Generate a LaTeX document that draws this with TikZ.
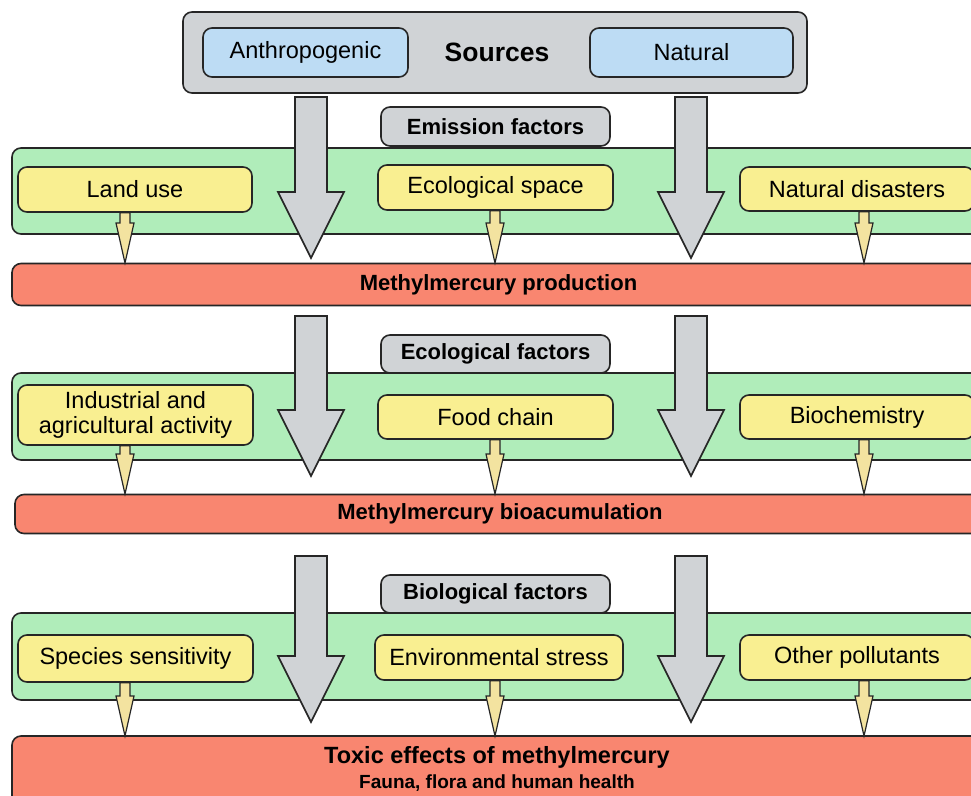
\documentclass[tikz,border=0pt]{standalone}
\usepackage{fontspec}
\setmainfont{Liberation Sans}
\usetikzlibrary{calc}

\tikzset{
    panel/.style={draw=lineColour, line width=1.6pt, rounded corners=9pt, inner sep=0pt},
    srcbox/.style={panel, fill=greyFill},
    origin/.style={panel, fill=blueFill, font=\fontsize{23.5}{27}\selectfont},
    tagbox/.style={panel, fill=greyFill, font=\fontsize{22}{26}\selectfont\bfseries},
    band/.style={panel, fill=greenFill},
    factor/.style={panel, fill=yellowFill, align=center, font=\fontsize{23.5}{25}\selectfont},
    stage/.style={panel, fill=redFill, align=center, font=\fontsize{22}{26}\selectfont\bfseries},
    bigarrow/.style={draw=lineColour, line width=1.6pt, fill=greyFill, line join=miter},
    thinarrow/.style={draw=lineColour, line width=1.2pt, fill=tanFill, line join=miter}
}

% Fat grey arrow: start point, tip
\newcommand{\fatarrow}[2]{%
    \draw[bigarrow] let \p1=(#1), \p2=(#2) in
        (\x1-16pt,\y1) -- (\x1+16pt,\y1) -- (\x1+16pt,\y2+66pt) -- (\x1+33pt,\y2+66pt)
        -- (\x1,\y2) -- (\x1-33pt,\y2+66pt) -- (\x1-16pt,\y2+66pt) -- cycle;}

% Small yellow arrow: start point, tip
\newcommand{\slimarrow}[2]{%
    \draw[thinarrow] let \p1=(#1), \p2=(#2) in
        (\x1-5pt,\y1) -- (\x1+5pt,\y1) -- (\x1+5pt,\y2+40pt) -- (\x1+9pt,\y2+40pt)
        -- (\x1,\y2) -- (\x1-9pt,\y2+40pt) -- (\x1-5pt,\y2+40pt) -- cycle;}

\begin{document}
\begin{tikzpicture}[x=1pt, y=-1pt]
    % Define colours
    \definecolor{lineColour}{HTML}{262626}
    \definecolor{greyFill}{HTML}{D0D3D6}
    \definecolor{blueFill}{HTML}{BDDCF4}
    \definecolor{greenFill}{HTML}{B0EDBA}
    \definecolor{yellowFill}{HTML}{F9EF91}
    \definecolor{tanFill}{HTML}{F3E3A0}
    \definecolor{redFill}{HTML}{F98670}

    % Fix the page
    \useasboundingbox (0,0) rectangle (971,795);
    \clip (0,0) rectangle (971,795);

    % Sources
    \node[srcbox, minimum width=624, minimum height=81] (sources) at (495,52.5) {};
    \node[origin, minimum width=205, minimum height=49] (anthro) at (305.5,52.5) {Anthropogenic};
    \node[origin, minimum width=203, minimum height=49] (natural) at (691.5,52.5) {Natural};
    \node[font=\fontsize{26.5}{30}\selectfont\bfseries] (srclabel) at (497,52.5) {Sources};

    % Row 1: emission
    \node[band, minimum width=973, minimum height=86] (green1) at (498.5,191) {};
    \node[tagbox, minimum width=229, minimum height=39] (emission) at (495.5,126.5) {Emission factors};
    \node[factor, minimum width=234, minimum height=45] (landuse) at (135,189.5) {Land use};
    \node[factor, minimum width=235, minimum height=45] (ecospace) at (495.5,187.5) {Ecological space};
    \node[factor, minimum width=234, minimum height=44] (disasters) at (857,189) {Natural disasters};
    \node[stage, minimum width=973, minimum height=42] (production) at (498.5,284.5) {Methylmercury production};

    \fatarrow{311,97}{311,258}
    \fatarrow{691,97}{691,258}
    \coordinate (p1) at (125,263);
    \coordinate (p2) at (495,263);
    \coordinate (p3) at (864,263);
    \slimarrow{landuse.south -| p1}{p1}
    \slimarrow{ecospace.south -| p2}{p2}
    \slimarrow{disasters.south -| p3}{p3}

    % Row 2: ecological
    \node[band, minimum width=973, minimum height=87] (green2) at (498.5,416.5) {};
    \node[tagbox, minimum width=229, minimum height=38] (ecological) at (495.5,354) {Ecological factors};
    \node[factor, minimum width=235, minimum height=60] (industry) at (135.5,415) {Industrial and\\agricultural activity};
    \node[factor, minimum width=235, minimum height=44] (foodchain) at (495.5,417) {Food chain};
    \node[factor, minimum width=234, minimum height=44] (biochem) at (857,417) {Biochemistry};
    \node[stage, minimum width=970, minimum height=39] (bioaccum) at (500,514) {Methylmercury bioacumulation};

    \fatarrow{311,316}{311,476}
    \fatarrow{691,316}{691,476}
    \coordinate (q1) at (125,494);
    \coordinate (q2) at (495,494);
    \coordinate (q3) at (864,494);
    \slimarrow{industry.south -| q1}{q1}
    \slimarrow{foodchain.south -| q2}{q2}
    \slimarrow{biochem.south -| q3}{q3}

    % Row 3: biological
    \node[band, minimum width=973, minimum height=87] (green3) at (498.5,656.5) {};
    \node[tagbox, minimum width=229, minimum height=38] (biological) at (495.5,594) {Biological factors};
    \node[factor, minimum width=235, minimum height=47] (species) at (135.5,658.5) {Species sensitivity};
    \node[factor, minimum width=248, minimum height=45] (envstress) at (499,657.5) {Environmental stress};
    \node[factor, minimum width=234, minimum height=45] (otherpol) at (857,657.5) {Other pollutants};
    \node[stage, minimum width=973, minimum height=74] (toxic) at (498.5,773) {};
    \node[anchor=base, inner sep=0pt, font=\fontsize{23.5}{27}\selectfont\bfseries] (toxiclabel) at (497,763) {Toxic effects of methylmercury};
    \node[anchor=base, inner sep=0pt, font=\fontsize{19}{22}\selectfont\bfseries] (healthlabel) at (497,788) {Fauna, flora and human health};

    \fatarrow{311,556}{311,722}
    \fatarrow{691,556}{691,722}
    \coordinate (r1) at (125,736);
    \coordinate (r2) at (495,736);
    \coordinate (r3) at (864,736);
    \slimarrow{species.south -| r1}{r1}
    \slimarrow{envstress.south -| r2}{r2}
    \slimarrow{otherpol.south -| r3}{r3}
\end{tikzpicture}
\end{document}
